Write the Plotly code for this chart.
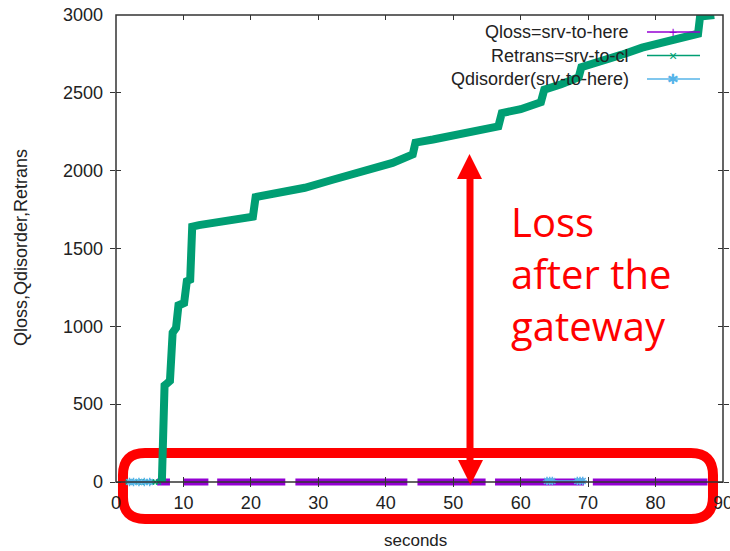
import plotly.graph_objects as go

# Retrans = srv-to-cl (cumulative count)
retrans_x = [6.8, 7.0, 7.2, 7.6, 8.0, 8.4, 8.9, 9.3, 9.6, 10.1, 10.5, 11.0, 11.3, 12.3,
             15.0, 18.0, 20.3, 20.7, 22.0, 25.0, 28.0, 32.0, 35.0, 38.0, 41.0, 44.0,
             44.4, 47.0, 50.0, 53.0, 56.7, 57.2, 60.0, 63.0, 63.5, 66.0, 68.6, 69.0,
             72.0, 75.0, 78.0, 82.0, 86.3, 86.6, 88.7]
retrans_y = [0, 300, 620, 635, 650, 960, 990, 1150, 1140, 1150, 1290, 1300, 1640, 1650,
             1665, 1685, 1705, 1830, 1840, 1865, 1890, 1940, 1975, 2010, 2050, 2105,
             2180, 2200, 2225, 2250, 2285, 2370, 2395, 2440, 2520, 2555, 2600, 2665,
             2700, 2745, 2790, 2830, 2880, 2990, 3000]
retrans_early_x = [1.8, 2.3, 2.8, 3.3, 3.8, 4.3, 4.8, 5.3, 5.8, 6.3]
retrans_early_y = [0, 0, 0, 0, 0, 0, 0, 0, 0, 0]

# Qloss = srv-to-here (runs of points at zero, None = gap)
qloss_x = [6.1, 8.0, None, 8.5, 8.55, None, 9.1, 9.15, None, 9.7, 9.75, None,
           10.0, 13.7, None, 15.0, 25.1, None, 26.6, 43.2, None, 44.7, 54.8, None,
           56.2, 69.4, None, 70.7, 87.7]
qloss_y = [0, 0, None, 0, 0, None, 0, 0, None, 0, 0, None,
           0, 0, None, 0, 0, None, 0, 0, None, 0, 0, None,
           0, 0, None, 0, 0]

# Qdisorder (srv-to-here)
qdis_x = [2.0, 2.6, 3.4, 4.2, 5.0, None, 63.9, 64.3, 64.7, 68.4, 68.8, 69.2]
qdis_y = [0, 0, 0, 0, 0, None, 6, 6, 6, 6, 6, 6]

legend_names = ["Qloss=srv-to-here", "Retrans=srv-to-cl", "Qdisorder(srv-to-here)"]
legend_marks = ["+", "×", "✱"]

PURPLE = "#9400D3"
GREEN = "#009E73"
BLUE = "#56B4E9"
RED = "#FF0000"
TXT = "#222222"
AX = "#333333"
FONT = "Liberation Sans, Arial, sans-serif"

# frame of the gnuplot graph in page pixels; the plotting area reaches a few
# pixels below y=0 so the thick lines lying on zero are not cut in half
L, T, R, B = 116, 15, 723, 482
B_AREA = 487
Y_MAX = 3000
Y_MIN = -(B_AREA - B) * Y_MAX / (B - T)


def px(x):
    return (x - L) / (R - L)


def py(y):
    return (B_AREA - y) / (B_AREA - T)


def rounded_rect(x0, y0, x1, y1, r):
    pts = [("M", (x0 + r, y0)), ("L", (x1 - r, y0)), ("Q", (x1, y0), (x1, y0 + r)),
           ("L", (x1, y1 - r)), ("Q", (x1, y1), (x1 - r, y1)), ("L", (x0 + r, y1)),
           ("Q", (x0, y1), (x0, y1 - r)), ("L", (x0, y0 + r)), ("Q", (x0, y0), (x0 + r, y0))]
    out = []
    for p in pts:
        coords = " ".join(f"{px(a):.4f},{py(b):.4f}" for a, b in p[1:])
        out.append(f"{p[0]}{coords}")
    return " ".join(out) + " Z"


def tri(points):
    return "M" + " L".join(f"{px(a):.4f},{py(b):.4f}" for a, b in points) + " Z"


fig = go.Figure()
fig.add_trace(go.Scatter(x=qloss_x, y=qloss_y, mode="lines", name=legend_names[0],
                         line=dict(color=PURPLE, width=7), connectgaps=False))
fig.add_trace(go.Scatter(x=retrans_early_x, y=retrans_early_y, mode="markers",
                         marker=dict(symbol="x-thin", size=5, color=GREEN,
                                     line=dict(color=GREEN, width=1.5)), showlegend=False))
fig.add_trace(go.Scatter(x=retrans_x, y=retrans_y, mode="lines", name=legend_names[1],
                         line=dict(color=GREEN, width=8)))
fig.add_trace(go.Scatter(x=qdis_x, y=qdis_y, mode="lines+markers", name=legend_names[2],
                         line=dict(color=BLUE, width=1.5), connectgaps=False,
                         marker=dict(symbol="asterisk-open", size=7,
                                     line=dict(color=BLUE, width=1.5))))
# invisible trace so the top (mirrored) x axis exists
fig.add_trace(go.Scatter(x=[0], y=[0], xaxis="x2", mode="markers",
                         marker=dict(opacity=0), hoverinfo="skip", showlegend=False))

shapes = [
    # graph frame (bottom edge sits at y = 0)
    dict(type="rect", xref="paper", yref="paper", x0=0, x1=1, y0=py(B), y1=1,
         line=dict(color=AX, width=1.5), layer="above"),
    dict(type="path", xref="paper", yref="paper", layer="below",
         path=rounded_rect(123, 453, 713, 519, 22),
         line=dict(color=RED, width=10)),
    dict(type="line", xref="paper", yref="paper", x0=px(470), x1=px(470),
         y0=py(176), y1=py(463), line=dict(color=RED, width=7)),
    dict(type="path", xref="paper", yref="paper",
         path=tri([(457, 179), (482, 179), (469.5, 154)]),
         fillcolor=RED, line=dict(color=RED, width=0)),
    dict(type="path", xref="paper", yref="paper",
         path=tri([(458, 460), (483, 460), (470.5, 485)]),
         fillcolor=RED, line=dict(color=RED, width=0)),
]

annotations = [
    dict(xref="paper", yref="paper", x=px(509), y=py(273), xanchor="left", yanchor="middle",
         text="Loss<br>after the<br>gateway", showarrow=False, align="left",
         font=dict(family="Open Sans, Noto Sans, sans-serif", size=40, color=RED)),
    # axis titles
    dict(xref="paper", yref="paper", x=px(415), y=py(540), xanchor="center", yanchor="middle",
         text="seconds", showarrow=False, font=dict(family=FONT, size=17, color=TXT)),
    dict(xref="paper", yref="paper", x=px(21), y=py(248), xanchor="center", yanchor="middle",
         text="Qloss,Qdisorder,Retrans", showarrow=False, textangle=-90,
         font=dict(family=FONT, size=18, color=TXT)),
]
legend_colors = [PURPLE, GREEN, BLUE]
for i, (name, mk, col) in enumerate(zip(legend_names, legend_marks, legend_colors)):
    yy = 32 + i * 23.5
    annotations.append(dict(xref="paper", yref="paper", x=px(631), y=py(yy),
                            xanchor="right", yanchor="middle", text=name, showarrow=False,
                            font=dict(family=FONT, size=18, color=TXT)))
    annotations.append(dict(xref="paper", yref="paper", x=px(673), y=py(yy),
                            xanchor="center", yanchor="middle", text=mk, showarrow=False,
                            font=dict(family=FONT, size=14, color=col)))
    shapes.append(dict(type="line", xref="paper", yref="paper", x0=px(647), x1=px(700),
                       y0=py(yy), y1=py(yy), line=dict(color=col, width=1.5)))

axis_common = dict(showline=False, ticks="inside", tickcolor=AX, tickwidth=1,
                   showgrid=False, zeroline=False, layer="above traces", automargin=False,
                   ticklabeloverflow="allow",
                   tickfont=dict(family=FONT, size=18, color=TXT))

fig.update_layout(
    width=730, height=551,
    margin=dict(l=L, r=730 - R, t=T, b=551 - B_AREA),
    paper_bgcolor="white", plot_bgcolor="white",
    showlegend=False,
    shapes=shapes, annotations=annotations,
    xaxis=dict(range=[0, 90], dtick=10, ticklen=5 + B_AREA - B,
               ticklabelstandoff=8 - (B_AREA - B), **axis_common),
    xaxis2=dict(range=[0, 90], dtick=10, overlaying="x", side="top", ticklen=5,
                showticklabels=False, ticks="inside", tickcolor=AX, showgrid=False,
                zeroline=False, automargin=False),
    yaxis=dict(range=[Y_MIN, Y_MAX], tickvals=[0, 500, 1000, 1500, 2000, 2500, 3000],
               ticklen=5, mirror="allticks", ticklabelstandoff=12, **axis_common),
)

# drop the browser's default body margin so the figure sits at the page origin
fig.write_html("out.html", config={"displayModeBar": False},
               post_script="document.body.style.margin='0';")
